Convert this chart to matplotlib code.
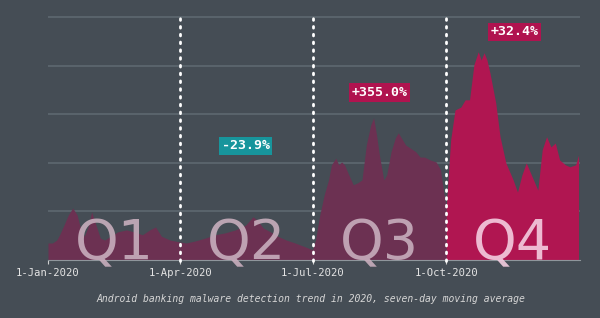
import matplotlib
matplotlib.use("Agg")
import matplotlib.pyplot as plt
import numpy as np

# day of year (0 = 1-Jan-2020) and detections, 7-day moving average (relative units)
days = [0, 3, 6, 8, 11, 14, 17, 20, 23, 25, 28, 30, 33, 36, 39, 43, 48, 54, 59, 65, 70, 74, 78, 84,
        91, 95, 101, 108, 115, 122, 129, 136, 141, 144, 148, 153, 158, 164, 170, 177,
        182, 184, 187, 190, 193, 195, 198, 200, 202, 204, 207, 210, 213, 216, 219, 222, 224, 226, 228,
        231, 233, 236, 239, 241, 244, 246, 249, 253, 256, 259, 263, 267, 270, 272,
        274, 277, 280, 284, 287, 290, 293, 296, 298, 300, 302, 304, 308, 311, 315, 317, 320, 323,
        326, 329, 332, 334, 337, 340, 343, 346, 349, 352, 356, 359, 363, 365]
values = [35, 35, 41, 52, 72, 93, 107, 93, 58, 49, 72, 99, 72, 45, 41, 49, 58, 62, 58, 52, 62, 68, 49, 41,
          37, 35, 39, 45, 52, 56, 62, 72, 89, 82, 66, 58, 49, 41, 35, 27,
          21, 41, 93, 134, 165, 196, 210, 196, 202, 196, 175, 155, 159, 165, 237, 278, 293, 258, 216,
          165, 175, 223, 252, 262, 247, 237, 231, 223, 212, 212, 206, 202, 186, 144,
          110, 247, 309, 315, 330, 330, 402, 429, 412, 427, 412, 386, 324, 254, 200, 186, 165, 140,
          175, 200, 179, 165, 144, 227, 254, 233, 241, 206, 196, 192, 196, 216]

quarter_starts = [0, 91, 182, 274]
quarter_ends = [91, 182, 274, 365]
quarter_names = ["Q1", "Q2", "Q3", "Q4"]
tick_labels = ["1-Jan-2020", "1-Apr-2020", "1-Jul-2020", "1-Oct-2020"]
changes = ["-23.9%", "+355.0%", "+32.4%"]
change_pos = [(136, 235), (228, 345), (321, 470)]   # (day, value) of each label
change_colors = ["#17959c", "#b0134f", "#b0134f"]

BG = "#454d55"
MUTED = "#6c3152"
BRIGHT = "#b01651"

days = np.array(days)
values = np.array(values)

fig = plt.figure(figsize=(6, 3.18), dpi=100, facecolor=BG)
ax = fig.add_axes([48 / 600, 58 / 318, 532 / 600, 250 / 318])
ax.set_facecolor(BG)

for i in range(4):
    m = (days >= quarter_starts[i]) & (days <= quarter_ends[i])
    col = BRIGHT if i == 3 else MUTED
    ax.fill_between(days[m], 0, values[m], color=col, lw=0, zorder=2)

ax.set_xlim(0, 366)
ax.set_ylim(0, 515)
ax.set_yticks([100, 200, 300, 400, 500])
ax.yaxis.grid(True, color="#59636b", lw=1.5, zorder=1)
ax.set_axisbelow(True)
ax.tick_params(axis="y", length=0, labelleft=False)

ax.set_xticks(quarter_starts)
ax.set_xticklabels(tick_labels, family="DejaVu Sans Mono", fontsize=7.6, color="#e4e4e4")
ax.tick_params(axis="x", length=3, color="#d0d0d0", pad=3)

for s in ["top", "right", "left"]:
    ax.spines[s].set_visible(False)
ax.spines["bottom"].set_color("#8f969c")

# quarter separators
for d in quarter_starts[1:]:
    ax.plot([d, d], [-3, 500], color="white", lw=2, ls=(0, (0.6, 2.2)),
            dash_capstyle="round", zorder=4, clip_on=False)

# big quarter labels
for i, q in enumerate(quarter_names):
    mid = (quarter_starts[i] + quarter_ends[i]) / 2
    col = "#f4cde0" if i == 3 else "#c8aebd"
    ax.text(mid, 2, q, ha="center", va="baseline", fontsize=40, color=col,
            alpha=0.9, zorder=3, family=["Liberation Sans Narrow", "DejaVu Sans"])

for txt, (d, v), c in zip(changes, change_pos, change_colors):
    ax.text(d, v, txt, ha="center", va="center", fontsize=9.5, fontweight="bold",
            family="DejaVu Sans Mono", color="white", zorder=5,
            bbox=dict(boxstyle="square,pad=0.2", fc=c, ec="none"))

fig.text(311 / 600, 1 - 299 / 318,
         "Android banking malware detection trend in 2020, seven-day moving average",
         ha="center", va="center", fontsize=7, style="italic", family="DejaVu Sans Mono",
         color="#d6d6d6")

fig.savefig("out.png", dpi=100, facecolor=BG)
